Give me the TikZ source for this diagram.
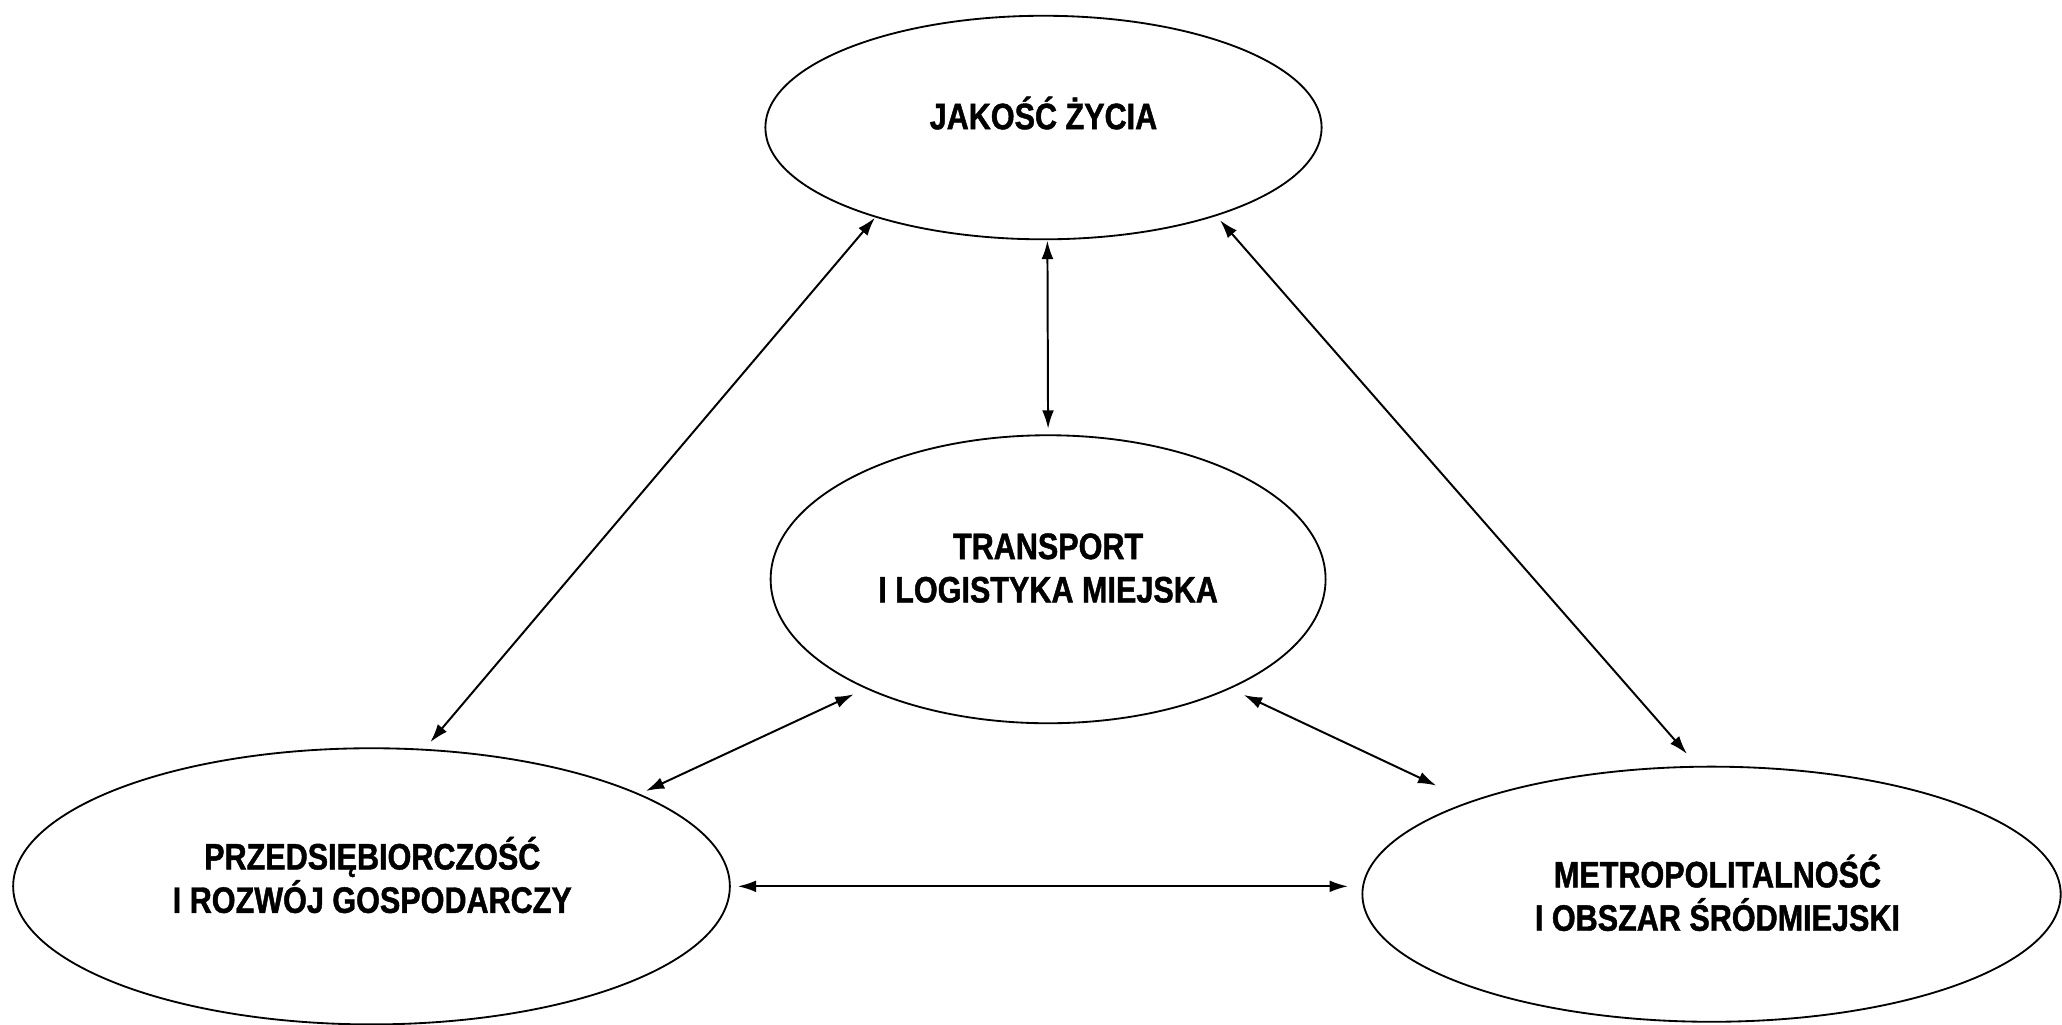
\documentclass[tikz,border=0pt]{standalone}
\usepackage{fontspec}
\setmainfont[FakeStretch=0.83, BoldFeatures={FakeBold=1.2}]{Liberation Sans}
\usetikzlibrary{shapes.geometric,arrows.meta}
\begin{document}
\begin{tikzpicture}[x=0.5pt,y=0.5pt,
  ell/.style={draw, ellipse, line width=0.7pt, inner sep=0pt, outer sep=0pt},
  lab/.style={font=\fontsize{14pt}{16.5pt}\selectfont\bfseries, align=center, inner sep=0pt},
  link/.style={line width=0.75pt, {Latex[length=7pt,width=4.5pt]}-{Latex[length=7pt,width=4.5pt]}}]
\useasboundingbox (0,0) rectangle (1568,779);
\node[ell, minimum width=211.5pt, minimum height=85pt,
  label={[lab, yshift=5.5pt]center:{JAKOŚĆ ŻYCIA}}] (jz) at (793.5,682) {};
\node[ell, minimum width=211pt, minimum height=109.5pt,
  label={[lab, yshift=4.25pt]center:{TRANSPORT\\I LOGISTYKA MIEJSKA}}] (tr) at (797,338.5) {};
\node[ell, minimum width=272.5pt, minimum height=105pt,
  label={[lab, xshift=0.3pt, yshift=4.3pt]center:{PRZEDSIĘBIORCZOŚĆ\\I ROZWÓJ GOSPODARCZY}}] (pr) at (282.5,105) {};
\node[ell, minimum width=265.5pt, minimum height=97pt,
  label={[lab, xshift=2.25pt, yshift=0.5pt]center:{METROPOLITALNOŚĆ\\I OBSZAR ŚRÓDMIEJSKI}}] (me) at (1301.5,99) {};
\draw[link, shorten <=0.5pt, shorten >=3.8pt] (jz.208.8) -- (pr.69.5);
\draw[link, shorten <=0.5pt, shorten >=2.5pt] (jz.-88) -- (tr.90);
\draw[link, shorten <=2.5pt, shorten >=6.5pt] (jz.-27) -- (me.96.5);
\draw[link, shorten <=5.5pt, shorten >=3pt] (tr.211.5) -- (pr.19.5);
\draw[link, shorten <=6pt, shorten >=14.5pt] (tr.-31.2) -- (me.159.4);
\draw[link, shorten <=3pt, shorten >=5.5pt] (pr.0) -- (pr.0 -| me.west);
\end{tikzpicture}
\end{document}
